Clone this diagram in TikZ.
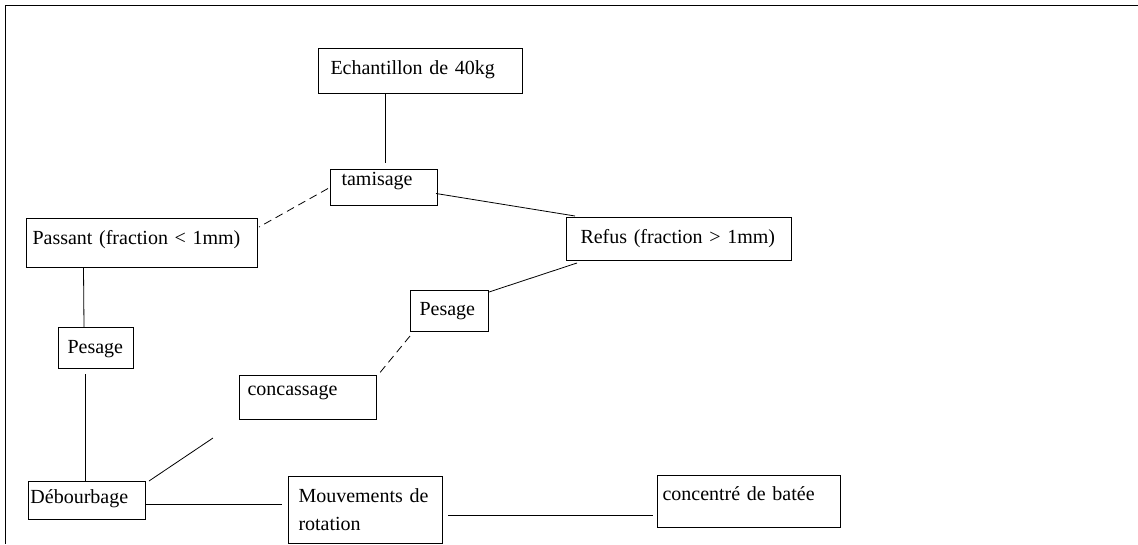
\documentclass[tikz,border=0pt]{standalone}
\usepackage{fontspec}
\setmainfont{Liberation Serif}
\usetikzlibrary{calc}
\tikzset{
  pbox/.style n args={4}{draw, line width=1pt, rectangle, anchor=north west,
    inner ysep=0pt, inner xsep=#1, text width=#2, text height=#3, text depth=#4,
    align=left, font=\fontsize{20}{28}\selectfont},
  link/.style={line width=0.8pt},
  dlink/.style={line width=0.8pt, dash pattern=on 8pt off 5pt},
  frame/.style={line width=1pt}
}
\begin{document}
\begin{tikzpicture}[x=1pt,y=-1pt]
\useasboundingbox (0,0) rectangle (1138,544);
\coordinate (fa) at (1138,5);
\coordinate (fb) at (5,5);
\coordinate (fc) at (5,544);
\draw[frame] (fa) -- (fb) -- (fc);

\node[pbox={12pt}{180pt}{26pt}{19pt}] (echa) at (318,48) {Echantillon de 40kg};
\node[pbox={11pt}{85pt}{16pt}{20pt}] (tam) at (330,169) {tamisage};
\node[pbox={6pt}{219pt}{26pt}{23pt}] (pass) at (26,218) {Passant (fraction < 1mm)};
\node[pbox={14pt}{197pt}{26pt}{17pt}] (refus) at (566,217) {Refus (fraction > 1mm)};
\node[pbox={9pt}{57pt}{26pt}{15pt}] (pesL) at (58,327) {Pesage};
\node[pbox={9pt}{60pt}{25pt}{16pt}] (pesR) at (410,290) {Pesage};
\node[pbox={8pt}{121pt}{20pt}{24pt}] (conc) at (239,375) {concassage};
\node[pbox={2pt}{113pt}{22pt}{16pt}] (deb) at (28,481) {Débourbage};
\node[pbox={10pt}{134pt}{26pt}{41pt}] (mouv) at (288,476) {\mbox{Mouvements de}\\rotation};
\node[pbox={5pt}{173pt}{25pt}{27pt}] (batee) at (657,475) {concentré de batée};

\coordinate (free) at (213,438);

\draw[link] ($(tam.north)+(1.5,-76)$) -- ($(tam.north)+(1.5,-6)$);
\draw[dlink] ($(tam.west)+(-2,1)$) -- ($(pass.north east)+(1,9)$);
\draw[link] ($(tam.east)+(-2,6)$) -- ($(refus.north west)+(9,-1)$);
\draw[link] ($(pass.south)+(-58.5,0)$) -- ($(pesL.north)+(-12,0)$);
\draw[link] ($(pesL.south)+(-10.5,5)$) -- ($(deb.north)+(-1.5,0)$);
\draw[link] ($(refus.south west)+(11,2)$) -- ($(pesR.north east)+(0,2)$);
\draw[dlink] ($(pesR.south west)+(0,4)$) -- ($(conc.north east)+(1,0)$);
\draw[link] ($(deb.north east)+(3,0)$) -- (free);
\draw[link] ($(deb.east)+(0,4)$) -- ($(mouv.west)+(-6,-5.5)$);
\draw[link] ($(mouv.east)+(5,5.5)$) -- ($(batee.west)+(-4,14)$);
\end{tikzpicture}
\end{document}
